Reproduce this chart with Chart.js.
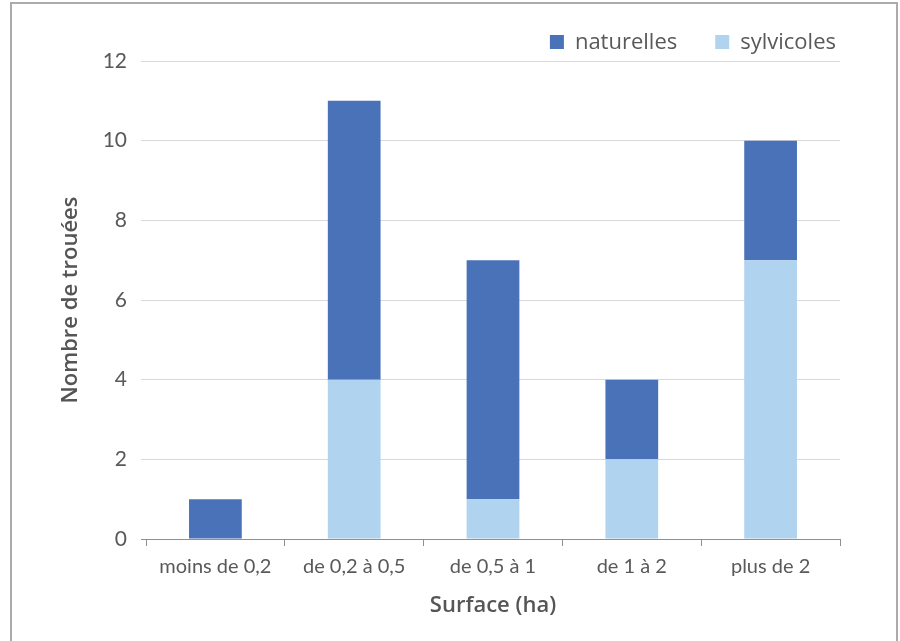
<!DOCTYPE html>
<html lang="fr">
<head>
<meta charset="utf-8">
<title>Nombre de trouées par surface</title>
<script src="https://cdn.jsdelivr.net/npm/chart.js@4.4.1/dist/chart.umd.min.js"></script>
<style>
  html, body { margin: 0; padding: 0; background: #ffffff; }
  #wrap { position: relative; width: 900px; height: 641px; }
</style>
</head>
<body>
<div id="wrap"><canvas id="chart" width="900" height="641"></canvas></div>
<script>
// Surface classes (ha)
const categories = ['moins de 0,2', 'de 0,2 à 0,5', 'de 0,5 à 1', 'de 1 à 2', 'plus de 2'];
// Gap counts per origin
const sylvicoles = [0, 4, 1, 2, 7];
const naturelles = [1, 7, 6, 2, 3];
// Y axis ticks
const yTicks = [0, 2, 4, 6, 8, 10, 12];

const COLOR_NAT = '#4a72b8';
const COLOR_SYL = '#b0d3f0';
const TEXT_GREY = '#595959';
const TITLE_GREY = '#555555';
const AXIS_GREY = '#8f8f8f';

// Outer frame around the figure
const framePlugin = {
  id: 'frame',
  beforeDraw(chart) {
    const ctx = chart.ctx;
    ctx.save();
    ctx.strokeStyle = '#ababab';
    ctx.lineWidth = 2;
    ctx.strokeRect(11, 3, 886, 660);
    ctx.restore();
  }
};

// Legend row at the top right, naturelles listed first
const legendPlugin = {
  id: 'topLegend',
  afterDraw(chart) {
    const ctx = chart.ctx;
    const items = chart.data.datasets.slice().reverse();
    const font = '400 22px "Open Sans"';
    const box = 14, gapBox = 11, gapItem = 38, rightEdge = 836, cy = 42;
    ctx.save();
    ctx.font = font;
    ctx.textBaseline = 'middle';
    ctx.textAlign = 'left';
    const widths = items.map(d => box + gapBox + ctx.measureText(d.label).width);
    let x = rightEdge - widths.reduce((a, b) => a + b, 0) - gapItem * (items.length - 1);
    items.forEach((d, i) => {
      ctx.fillStyle = d.backgroundColor;
      ctx.fillRect(x, cy - box / 2, box, box);
      ctx.fillStyle = TEXT_GREY;
      ctx.fillText(d.label, x + box + gapBox, cy + 1);
      x += widths[i] + gapItem;
    });
    ctx.restore();
  }
};

function draw() {
  new Chart(document.getElementById('chart'), {
    type: 'bar',
    data: {
      labels: categories,
      datasets: [
        { label: 'sylvicoles', data: sylvicoles, backgroundColor: COLOR_SYL },
        { label: 'naturelles', data: naturelles, backgroundColor: COLOR_NAT }
      ]
    },
    options: {
      responsive: false,
      animation: false,
      layout: { padding: { top: 61, right: 60, bottom: 18, left: 55 } },
      datasets: { bar: { categoryPercentage: 1, barPercentage: 0.38 } },
      plugins: {
        legend: { display: false },
        tooltip: { enabled: false }
      },
      scales: {
        x: {
          stacked: true,
          afterFit(scale) { scale.height = 84; },
          grid: {
            offset: true,
            drawOnChartArea: false,
            drawTicks: true,
            tickLength: 7,
            color: AXIS_GREY
          },
          border: { display: true, color: AXIS_GREY, width: 1 },
          ticks: {
            padding: 9,
            color: TEXT_GREY,
            font: { family: 'Lato', size: 20 }
          },
          title: {
            display: true,
            text: 'Surface (ha)',
            color: TITLE_GREY,
            padding: { top: 4, bottom: 4 },
            font: { family: 'Open Sans', size: 22, weight: 600 }
          }
        },
        y: {
          stacked: true,
          min: 0,
          max: 12,
          afterFit(scale) { scale.width = 91; },
          afterBuildTicks(scale) { scale.ticks = yTicks.map(v => ({ value: v })); },
          grid: {
            color: ctx => (ctx.tick && ctx.tick.value === 0 ? AXIS_GREY : '#d9d9d9'),
            drawTicks: true,
            tickLength: 5,
            lineWidth: 1
          },
          border: { display: false },
          ticks: {
            padding: 14,
            color: TEXT_GREY,
            font: { family: 'Lato', size: 21 }
          },
          title: {
            display: true,
            text: 'Nombre de trouées',
            color: TITLE_GREY,
            padding: { top: 3, bottom: 4 },
            font: { family: 'Open Sans', size: 22, weight: 600 }
          }
        }
      }
    },
    plugins: [framePlugin, legendPlugin]
  });
}

Promise.all([
  document.fonts.load('20px Lato'),
  document.fonts.load('400 22px "Open Sans"'),
  document.fonts.load('600 22px "Open Sans"')
]).then(draw, draw);
</script>
</body>
</html>
